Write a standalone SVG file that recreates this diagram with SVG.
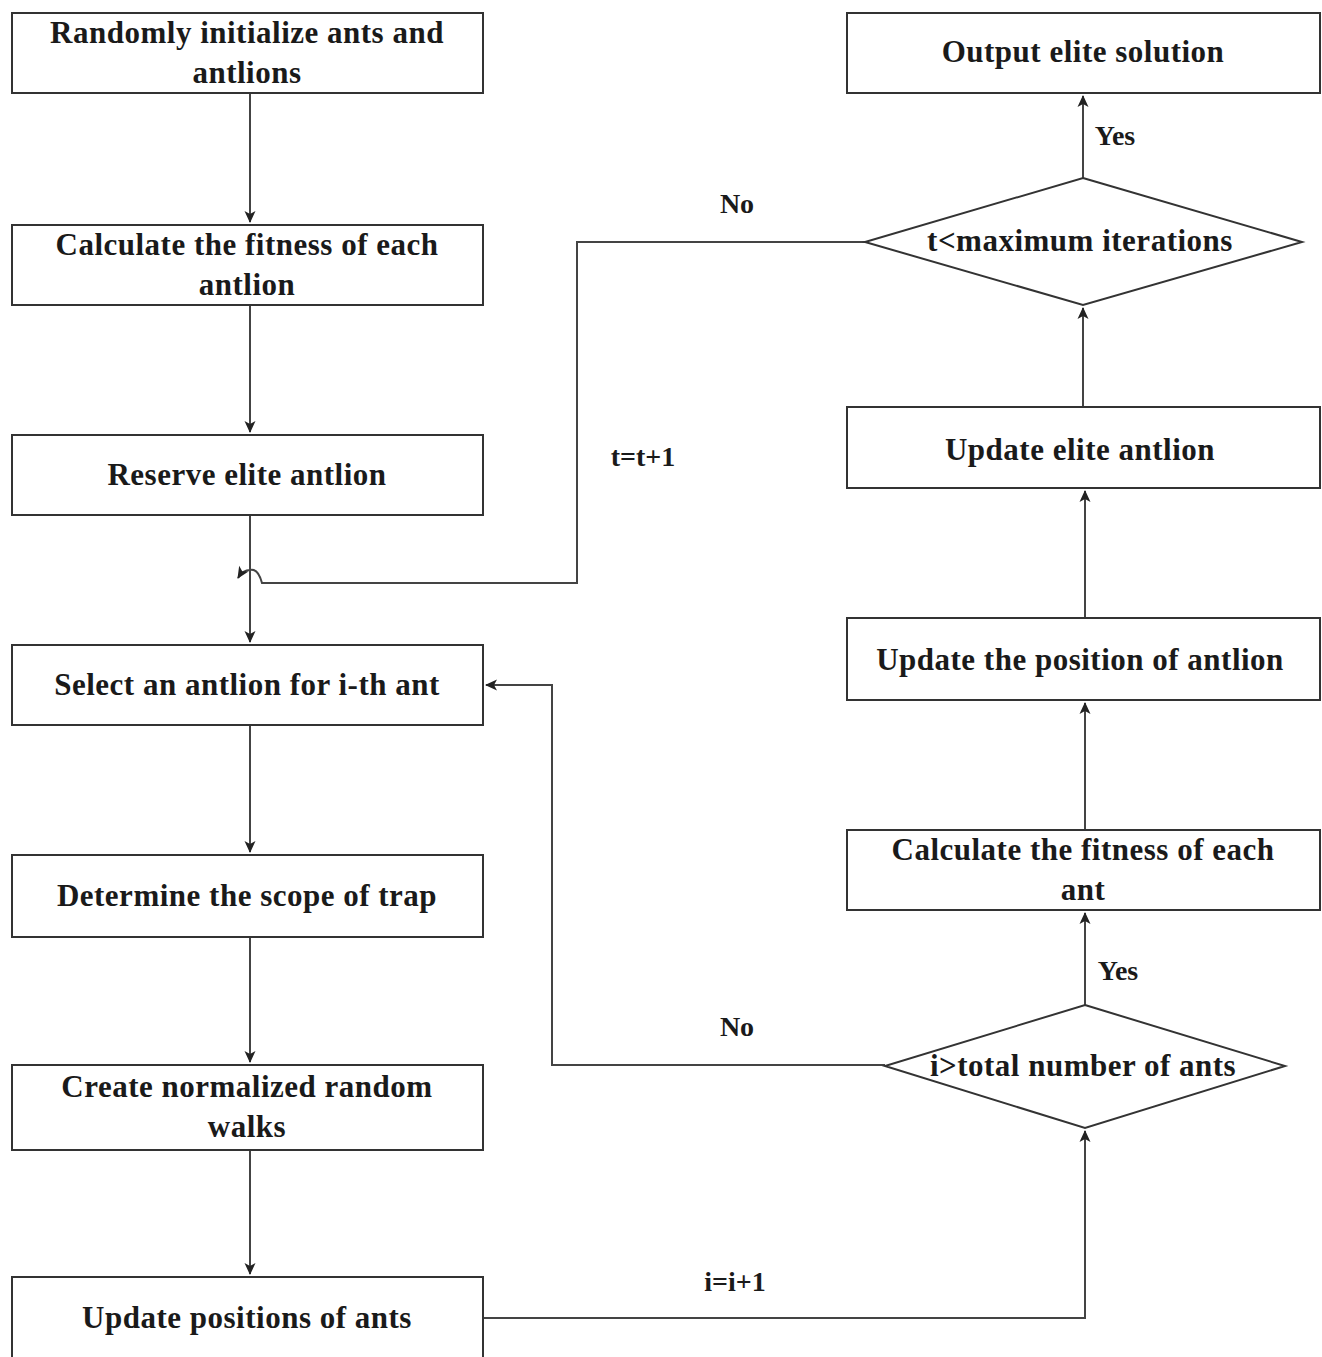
<svg xmlns="http://www.w3.org/2000/svg" width="1322" height="1357" viewBox="0 0 1322 1357">
<defs>
<marker id="ah" markerWidth="14" markerHeight="14" refX="12" refY="7" orient="auto" markerUnits="userSpaceOnUse">
<path d="M1,1.5 L13,7 L1,12.5 L4,7 Z" fill="#222"/>
</marker>
<style>
.box{fill:#fff;stroke:#333;stroke-width:2}
.t{font-family:"Liberation Serif","Times New Roman",serif;font-size:31px;font-weight:bold;letter-spacing:0.5px;fill:#1a1a1a;text-anchor:middle}
.l{font-family:"Liberation Serif","Times New Roman",serif;font-size:28px;font-weight:bold;fill:#1a1a1a;text-anchor:middle}
.c{fill:none;stroke:#444;stroke-width:2}
</style>
</defs>
<rect width="1322" height="1357" fill="#fff"/>
<g id="connectors">
<path class="c" d="M250,93 V222" marker-end="url(#ah)"/>
<path class="c" d="M250,305 V432" marker-end="url(#ah)"/>
<path class="c" d="M250,515 V642" marker-end="url(#ah)"/>
<path class="c" d="M250,725 V852" marker-end="url(#ah)"/>
<path class="c" d="M250,937 V1062" marker-end="url(#ah)"/>
<path class="c" d="M250,1150 V1274" marker-end="url(#ah)"/>
<path class="c" d="M483,1318 H1085 V1131" marker-end="url(#ah)"/>
<path class="c" d="M885,1065 H552 V685 H486" marker-end="url(#ah)"/>
<path class="c" d="M1085,1005 V913" marker-end="url(#ah)"/>
<path class="c" d="M1085,830 V703" marker-end="url(#ah)"/>
<path class="c" d="M1085,618 V491" marker-end="url(#ah)"/>
<path class="c" d="M1083,407 V308" marker-end="url(#ah)"/>
<path class="c" d="M1083,178 V96" marker-end="url(#ah)"/>
<path class="c" d="M865,242 H577 V583 H262 Q258,568 250,570 Q243,570 238,578" marker-end="url(#ah)"/>
<text class="l" x="737" y="213">No</text>
<text class="l" x="1115" y="145">Yes</text>
<text class="l" x="643" y="466">t=t+1</text>
<text class="l" x="737" y="1036">No</text>
<text class="l" x="1118" y="980">Yes</text>
<text class="l" x="735" y="1291">i=i+1</text>
</g>
<g id="n1"><rect class="box" x="12" y="13" width="471" height="80"/><text class="t" x="247" y="43">Randomly initialize ants and</text><text class="t" x="247" y="83">antlions</text></g>
<g id="n2"><rect class="box" x="12" y="225" width="471" height="80"/><text class="t" x="247" y="255">Calculate the fitness of each</text><text class="t" x="247" y="295">antlion</text></g>
<g id="n3"><rect class="box" x="12" y="435" width="471" height="80"/><text class="t" x="247" y="485">Reserve elite antlion</text></g>
<g id="n4"><rect class="box" x="12" y="645" width="471" height="80"/><text class="t" x="247" y="695">Select an antlion for i-th ant</text></g>
<g id="n5"><rect class="box" x="12" y="855" width="471" height="82"/><text class="t" x="247" y="906">Determine the scope of trap</text></g>
<g id="n6"><rect class="box" x="12" y="1065" width="471" height="85"/><text class="t" x="247" y="1097">Create normalized random</text><text class="t" x="247" y="1137">walks</text></g>
<g id="n7"><rect class="box" x="12" y="1277" width="471" height="100"/><text class="t" x="247" y="1328">Update positions of ants</text></g>
<g id="n8"><rect class="box" x="847" y="13" width="473" height="80"/><text class="t" x="1083" y="62">Output elite solution</text></g>
<g id="d1"><polygon class="box" points="1083,178 1302,242 1083,305 865,242"/><text class="t" x="1080" y="251">t&lt;maximum iterations</text></g>
<g id="n9"><rect class="box" x="847" y="407" width="473" height="81"/><text class="t" x="1080" y="460">Update elite antlion</text></g>
<g id="n10"><rect class="box" x="847" y="618" width="473" height="82"/><text class="t" x="1080" y="670">Update the position of antlion</text></g>
<g id="n11"><rect class="box" x="847" y="830" width="473" height="80"/><text class="t" x="1083" y="860">Calculate the fitness of each</text><text class="t" x="1083" y="900">ant</text></g>
<g id="d2"><polygon class="box" points="1085,1005 1285,1066 1085,1128 885,1066"/><text class="t" x="1083" y="1076">i&gt;total number of ants</text></g>
</svg>
